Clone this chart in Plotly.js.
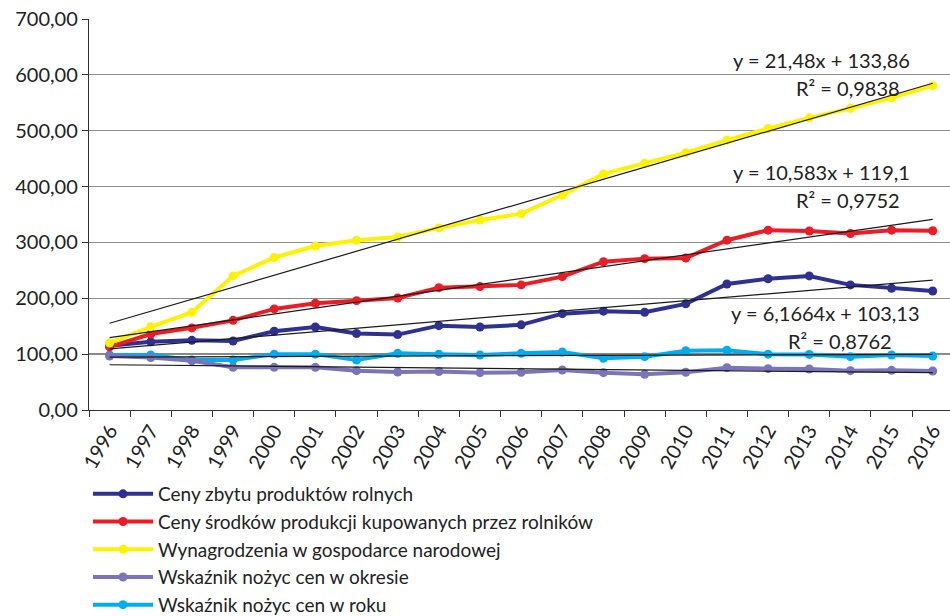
<!DOCTYPE html>
<html>
<head>
<meta charset="utf-8">
<script src="https://cdn.plot.ly/plotly-3.0.1.min.js"></script>
<style>html,body{margin:0;padding:0;background:#fff;overflow:hidden;}#chart{width:950px;height:616px;}</style>
</head>
<body>
<div id="chart"></div>
<script>
var years = ["1996","1997","1998","1999","2000","2001","2002","2003","2004","2005","2006","2007","2008","2009","2010","2011","2012","2013","2014","2015","2016"];
var cenyZbytu = [115,122,124.7,123.5,141,148.6,137,135,151,148.6,152.5,172.5,177,175,190,225.6,235,240,224,218,213];
var cenySrodkow = [113,136,147,160.5,181,191,195.7,200.5,219,221,224,238.7,265.5,271,272,304,322,320.4,316,322,321];
var wynagrodzenia = [120,149,175,240,273,293.6,303.7,309.7,326,340,351.5,385,422.5,441.6,460.7,483,504,523,540,559,580.6];
var nozyceOkres = [96.7,94,88,76.4,76.4,76.4,70.4,68,69,66.8,67.5,71.6,66.8,64,67.5,75.8,74,73.5,70.4,71,69.8];
var nozyceRok = [98.5,98.5,89.5,89.5,100,100,89.5,101.5,100,98.5,101.5,103.8,92.5,95.5,106,107,100,99.5,95.5,98.5,96.7];
var seriesNames = ["Ceny zbytu produktów rolnych","Ceny środków produkcji kupowanych przez rolników","Wynagrodzenia w gospodarce narodowej","Wskaźnik nożyc cen w okresie","Wskaźnik nożyc cen w roku"];
// trend coefficients (slope, intercept), x = 1..21
var trendWyn = [21.48, 133.86];
var trendSrod = [10.583, 119.1];
var trendZbyt = [6.1664, 103.13];
var trendOkres = [-0.71, 81.7];
var trendRok = [0.25, 94.5];
var eqWyn = ["y = 21,48x + 133,86", "R² = 0,9838"];
var eqSrod = ["y = 10,583x + 119,1", "R² = 0,9752"];
var eqZbyt = ["y = 6,1664x + 103,13", "R² = 0,8762"];
var baseLevel = 100;

var FONT = "Lato, 'Open Sans', sans-serif";
var FS = 20;
var colors = ["#2e3192","#ed1c24","#fff200","#7a75b8","#00aeef"];
var dataArr = [cenyZbytu, cenySrodkow, wynagrodzenia, nozyceOkres, nozyceRok];

function trend(c){ return years.map(function(_, i){ return c[0]*(i+1) + c[1]; }); }

var traces = [];
[trendRok, trendOkres, trendZbyt, trendSrod, trendWyn].forEach(function(c){
  traces.push({x: years, y: trend(c), type: "scatter", mode: "lines", showlegend: false, hoverinfo: "skip",
    line: {color: "#1a1a1a", width: 1.2}});
});
var dataTraces = [];
for (var k = 0; k < 5; k++) {
  dataTraces[k] = {x: years, y: dataArr[k], type: "scatter", mode: "lines+markers", name: seriesNames[k],
    line: {color: colors[k], width: 4}, marker: {color: colors[k], size: 9}, legendrank: k + 1};
}
var all = [];
all.push(dataTraces[4], dataTraces[3]);
all = all.concat(traces.slice(0,2));
all.push(dataTraces[0], dataTraces[1], dataTraces[2]);
all = all.concat(traces.slice(2));

function ann(x, y, text){
  return {x: x, y: y, xref: "x", yref: "y", text: text, showarrow: false,
    font: {family: FONT, size: FS, color: "#222"}, xanchor: "center", yanchor: "middle"};
}

var H = 616, TOP = 19, AXISBOT = 410;
var layout = {
  width: 950, height: H,
  margin: {l: 89, r: 0, t: TOP, b: H - AXISBOT, autoexpand: false},
  paper_bgcolor: "#fff", plot_bgcolor: "#fff",
  separators: ", ",
  font: {family: FONT, size: FS, color: "#222"},
  showlegend: true,
  legend: {xref: "container", yref: "container", x: 88 / 950, xanchor: "left", y: (H - 475) / H, yanchor: "top", orientation: "v",
    font: {family: FONT, size: 19, color: "#222"}, tracegroupgap: 0, itemwidth: 60,
    bgcolor: "rgba(0,0,0,0)", borderwidth: 0},
  xaxis: {type: "category", range: [-0.5, 20.42], showgrid: false, showline: true, linecolor: "#333", linewidth: 1.2,
    ticks: "outside", tickson: "boundaries", ticklen: 6, tickcolor: "#333", tickangle: -60, automargin: false,
    tickfont: {family: FONT, size: FS, color: "#222"}, zeroline: false},
  yaxis: {range: [0, 700], dtick: 100, tickformat: ".2f", automargin: false,
    showgrid: true, gridcolor: "#8c8c8c", gridwidth: 1.2,
    showline: true, linecolor: "#333", linewidth: 1.2, ticks: "outside", ticklen: 6, tickcolor: "#333",
    tickfont: {family: FONT, size: FS, color: "#222"}, zeroline: false},
  shapes: [{type: "line", xref: "paper", x0: 0, x1: 1, yref: "y", y0: baseLevel, y1: baseLevel,
    line: {color: "#111", width: 1.2}, layer: "below"}],
  annotations: [
    ann(17.3, 626, eqWyn[0]), ann(17.95, 576, eqWyn[1]),
    ann(17.3, 426, eqSrod[0]), ann(17.95, 376, eqSrod[1]),
    ann(17.4, 174, eqZbyt[0]), ann(17.75, 124, eqZbyt[1])
  ]
};

Plotly.newPlot("chart", all, layout, {displayModeBar: false, staticPlot: true});
</script>
</body>
</html>
